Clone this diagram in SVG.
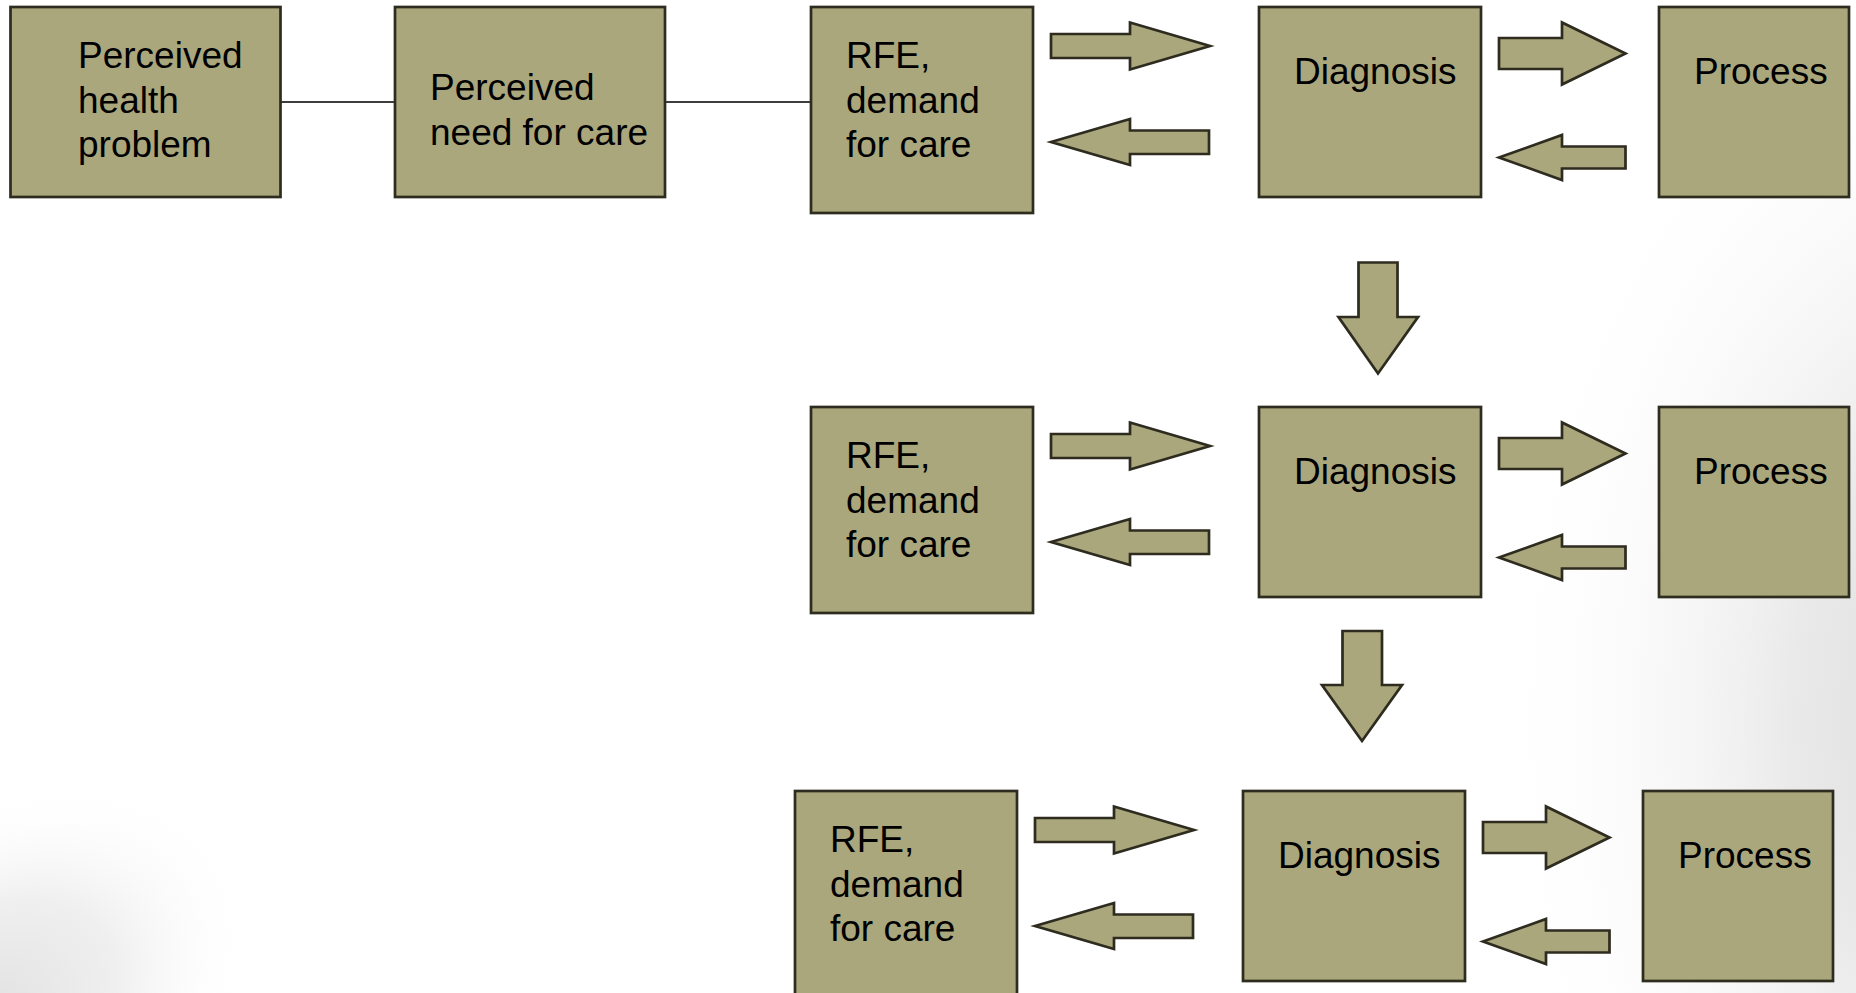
<svg xmlns="http://www.w3.org/2000/svg" xmlns:xlink="http://www.w3.org/1999/xlink" width="1856" height="993" viewBox="0 0 1856 993">
  <style>
    .box { fill: #aaa77d; stroke: #2e2b1f; stroke-width: 2.7; }
    .arr { fill: #aaa77d; stroke: #2e2b1f; stroke-width: 2.7; stroke-linejoin: miter; }
    .ln { stroke: #3d3d3d; stroke-width: 2.2; fill: none; }
    text { font-family: "Liberation Sans", Arial, sans-serif; font-size: 37px; fill: #000; }
  </style>
  <defs>
    <radialGradient id="bgR" gradientUnits="userSpaceOnUse" cx="0" cy="0" r="1" gradientTransform="translate(1990,720) scale(500,760)">
      <stop offset="0" stop-color="#d8d8d8" stop-opacity="1"/>
      <stop offset="0.4" stop-color="#e6e6e6" stop-opacity="0.85"/>
      <stop offset="1" stop-color="#ffffff" stop-opacity="0"/>
    </radialGradient>
    <radialGradient id="bgL" gradientUnits="userSpaceOnUse" cx="0" cy="0" r="1" gradientTransform="translate(-20,1020) rotate(-35) scale(300,200)">
      <stop offset="0" stop-color="#e0e0e0" stop-opacity="1"/>
      <stop offset="0.5" stop-color="#ebebeb" stop-opacity="0.8"/>
      <stop offset="1" stop-color="#ffffff" stop-opacity="0"/>
    </radialGradient>
    <polygon id="rA" points="1051,34 1130,34 1130,22.5 1210,46 1130,69.5 1130,58 1051,58"/>
    <polygon id="lA" points="1051,142 1130,119 1130,130.5 1209,130.5 1209,154 1130,154 1130,165"/>
    <polygon id="rB" points="1499,38 1562,38 1562,22.5 1625.5,53.5 1562,84.5 1562,69 1499,69"/>
    <polygon id="lB" points="1499,157.5 1562,135 1562,146.5 1625.5,146.5 1625.5,168.5 1562,168.5 1562,180"/>
  </defs>

  <rect x="0" y="0" width="1856" height="993" fill="#ffffff"/>
  <rect x="0" y="0" width="1856" height="993" fill="url(#bgR)"/>
  <rect x="0" y="0" width="1856" height="993" fill="url(#bgL)"/>

  <g id="connectors">
    <line class="ln" x1="281" y1="102" x2="395" y2="102"/>
    <line class="ln" x1="665" y1="102" x2="811" y2="102"/>
    <!-- row 1 -->
    <use xlink:href="#rA" class="arr"/>
    <use xlink:href="#lA" class="arr"/>
    <use xlink:href="#rB" class="arr"/>
    <use xlink:href="#lB" class="arr"/>
    <!-- row 2 -->
    <use xlink:href="#rA" class="arr" transform="translate(0,400)"/>
    <use xlink:href="#lA" class="arr" transform="translate(0,400)"/>
    <use xlink:href="#rB" class="arr" transform="translate(0,400)"/>
    <use xlink:href="#lB" class="arr" transform="translate(0,400)"/>
    <!-- row 3 -->
    <use xlink:href="#rA" class="arr" transform="translate(-16,784)"/>
    <use xlink:href="#lA" class="arr" transform="translate(-16,784)"/>
    <use xlink:href="#rB" class="arr" transform="translate(-16,784)"/>
    <use xlink:href="#lB" class="arr" transform="translate(-16,784)"/>
    <!-- down arrows -->
    <polygon class="arr" points="1358.5,262.5 1397.5,262.5 1397.5,317 1418,317 1378,373.5 1338.5,317 1358.5,317"/>
    <polygon class="arr" points="1342.5,631 1382,631 1382,685 1402,685 1362,741 1322,685 1342.5,685"/>
  </g>

  <g id="perceived-health-problem">
    <rect class="box" x="10.5" y="7" width="270" height="190"/>
    <text x="78" y="68">Perceived</text>
    <text x="78" y="112.5">health</text>
    <text x="78" y="157">problem</text>
  </g>
  <g id="perceived-need">
    <rect class="box" x="395" y="7" width="270" height="190"/>
    <text x="430" y="100">Perceived</text>
    <text x="430" y="144.5">need for care</text>
  </g>

  <g id="rfe-1">
    <rect class="box" x="811" y="7" width="222" height="206"/>
    <text x="846" y="68">RFE,</text>
    <text x="846" y="112.5">demand</text>
    <text x="846" y="157">for care</text>
  </g>
  <g id="diagnosis-1">
    <rect class="box" x="1259" y="7" width="222" height="190"/>
    <text x="1294" y="84">Diagnosis</text>
  </g>
  <g id="process-1">
    <rect class="box" x="1659" y="7" width="190" height="190"/>
    <text x="1694" y="84">Process</text>
  </g>

  <g id="rfe-2">
    <rect class="box" x="811" y="407" width="222" height="206"/>
    <text x="846" y="468">RFE,</text>
    <text x="846" y="512.5">demand</text>
    <text x="846" y="557">for care</text>
  </g>
  <g id="diagnosis-2">
    <rect class="box" x="1259" y="407" width="222" height="190"/>
    <text x="1294" y="484">Diagnosis</text>
  </g>
  <g id="process-2">
    <rect class="box" x="1659" y="407" width="190" height="190"/>
    <text x="1694" y="484">Process</text>
  </g>

  <g id="rfe-3">
    <rect class="box" x="795" y="791" width="222" height="206"/>
    <text x="830" y="852">RFE,</text>
    <text x="830" y="896.5">demand</text>
    <text x="830" y="941">for care</text>
  </g>
  <g id="diagnosis-3">
    <rect class="box" x="1243" y="791" width="222" height="190"/>
    <text x="1278" y="868">Diagnosis</text>
  </g>
  <g id="process-3">
    <rect class="box" x="1643" y="791" width="190" height="190"/>
    <text x="1678" y="868">Process</text>
  </g>
</svg>
